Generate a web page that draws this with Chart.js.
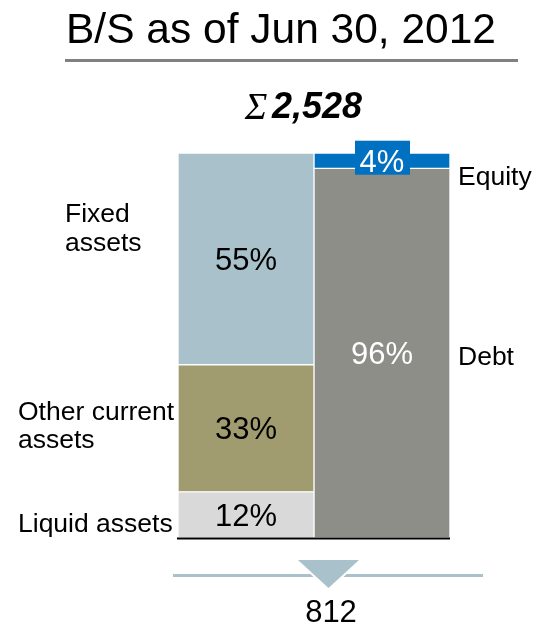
<!DOCTYPE html>
<html>
<head>
<meta charset="utf-8">
<script src="https://cdn.jsdelivr.net/npm/chart.js@4"></script>
<style>
  html, body { margin: 0; padding: 0; background: #ffffff; }
  #wrap { width: 534px; height: 628px; }
</style>
</head>
<body>
<div id="wrap"><canvas id="bs" width="534" height="628"></canvas></div>
<script>
// Balance sheet structure, shares in percent of total
const columns = ['Assets', 'Liabilities & equity'];
const assetNames = ['Liquid assets', 'Other current assets', 'Fixed assets'];
const assetShares = [12, 33, 55];
const fundingNames = ['Debt', 'Equity'];
const fundingShares = [96, 4];
const totalAssets = '2,528';
const bottomValue = '812';
const titleText = 'B/S as of Jun 30, 2012';

const assetColors = ['#d9d9d9', '#a09c70', '#a9c1cb'];
const assetTextColors = ['#000000', '#000000', '#000000'];
const fundingColors = ['#8e8e89', '#0070c0'];
const fundingTextColors = ['#ffffff', '#ffffff'];

const FONT = '"Liberation Sans", Arial, sans-serif';

const datasets = [];
assetNames.forEach((name, i) => {
  datasets.push({
    label: name,
    data: [assetShares[i], null],
    backgroundColor: assetColors[i],
    textColor: assetTextColors[i],
    side: 'left'
  });
});
fundingNames.forEach((name, i) => {
  datasets.push({
    label: name,
    data: [null, fundingShares[i]],
    backgroundColor: fundingColors[i],
    textColor: fundingTextColors[i],
    side: 'right'
  });
});

function txt(ctx, s, x, y, size, opts) {
  opts = opts || {};
  ctx.save();
  ctx.font = (opts.style || '') + ' ' + size + 'px ' + (opts.family || FONT);
  ctx.fillStyle = opts.color || '#000000';
  ctx.textAlign = opts.align || 'left';
  ctx.textBaseline = 'alphabetic';
  ctx.fillText(s, x, y);
  ctx.restore();
}

const decor = {
  id: 'decor',
  afterDatasetsDraw(chart) {
    const ctx = chart.ctx;
    const area = chart.chartArea;

    // heading and rule
    txt(ctx, titleText, 281, 43, 42.5, { align: 'center' });
    ctx.save();
    ctx.fillStyle = '#808080';
    ctx.fillRect(65, 59, 453, 3);
    ctx.restore();

    // total
    txt(ctx, '\u03A3', 256, 119, 38, { align: 'center', style: 'italic', family: '"Liberation Serif", serif' });
    txt(ctx, totalAssets, 272, 118, 36, { style: 'italic bold' });

    // percentage labels inside the segments
    const pctSize = 31;
    chart.data.datasets.forEach((ds, di) => {
      const meta = chart.getDatasetMeta(di);
      meta.data.forEach((el, j) => {
        const v = ds.data[j];
        if (v == null) return;
        const cy = (el.y + el.base) / 2;
        const label = v + '%';
        if (v < 8) {
          // thin slice: label sits on a box of the slice colour
          ctx.save();
          ctx.fillStyle = ds.backgroundColor;
          ctx.fillRect(el.x - 27, cy - 20, 55, 34);
          ctx.restore();
        }
        txt(ctx, label, el.x, cy + 0.358 * pctSize, pctSize, { align: 'center', color: ds.textColor });
      });
    });

    // baseline
    ctx.save();
    ctx.fillStyle = '#000000';
    ctx.fillRect(area.left - 1, area.bottom - 0.5, area.right - area.left + 1, 2);
    ctx.restore();

    // category names beside the bars
    const segs = {};
    chart.data.datasets.forEach((ds, di) => {
      const meta = chart.getDatasetMeta(di);
      meta.data.forEach((el, j) => {
        if (ds.data[j] == null) return;
        segs[ds.label] = { top: el.y, bottom: el.base, mid: (el.y + el.base) / 2 };
      });
    });
    const ls = 26.5;
    const fx = segs['Fixed assets'];
    txt(ctx, 'Fixed', 65, fx.top + 69, ls);
    txt(ctx, 'assets', 65, fx.top + 98, ls);
    const oc = segs['Other current assets'];
    txt(ctx, 'Other current', 18, oc.mid - 8, ls);
    txt(ctx, 'assets', 18, oc.mid + 20, ls);
    const lq = segs['Liquid assets'];
    txt(ctx, 'Liquid assets', 18, lq.mid + 17, ls);
    const eq = segs['Equity'];
    txt(ctx, 'Equity', 458, eq.mid + 24, ls);
    const db = segs['Debt'];
    txt(ctx, 'Debt', 458, db.mid + 12, ls);

    // arrow towards the figure below
    ctx.save();
    ctx.fillStyle = '#a9c1cb';
    ctx.fillRect(173, 574, 310, 3);
    ctx.beginPath();
    ctx.moveTo(298, 560);
    ctx.lineTo(359, 560);
    ctx.lineTo(328.5, 588);
    ctx.closePath();
    ctx.strokeStyle = '#ffffff';
    ctx.lineWidth = 4;
    ctx.stroke();
    ctx.fill();
    ctx.restore();

    txt(ctx, bottomValue, 331, 622, 31, { align: 'center' });
  }
};

new Chart(document.getElementById('bs'), {
  type: 'bar',
  data: { labels: columns, datasets: datasets },
  options: {
    responsive: false,
    animation: false,
    devicePixelRatio: 1,
    layout: { padding: { left: 178, right: 84, top: 153, bottom: 90 } },
    datasets: {
      bar: {
        categoryPercentage: 1,
        barPercentage: 1,
        borderWidth: 1,
        borderColor: '#ffffff',
        borderSkipped: false,
        skipNull: true
      }
    },
    scales: {
      x: { stacked: true, display: false },
      y: { stacked: true, display: false, min: 0, max: 100 }
    },
    plugins: {
      legend: { display: false },
      tooltip: { enabled: false },
      title: { display: false }
    }
  },
  plugins: [decor]
});
</script>
</body>
</html>
